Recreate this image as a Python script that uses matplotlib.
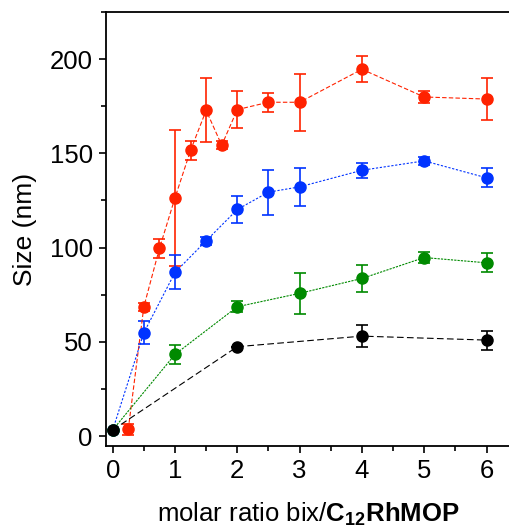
import matplotlib
matplotlib.use('Agg')
import matplotlib.pyplot as plt
from matplotlib.ticker import MultipleLocator

plt.rcParams['font.family'] = ['Liberation Sans', 'DejaVu Sans']
plt.rcParams['mathtext.fontset'] = 'custom'
plt.rcParams['mathtext.rm'] = 'Liberation Sans'
plt.rcParams['mathtext.bf'] = 'Liberation Sans:bold'

# red series
x_red = [0.25, 0.5, 0.75, 1, 1.25, 1.5, 1.75, 2, 2.5, 3, 4, 5, 6]
y_red = [3.5, 68.6, 99.5, 126.4, 151.6, 172.8, 154.3, 173.2, 177.1, 177.1, 194.6, 179.9, 178.8]
e_red = [3, 2, 5, 36, 5, 17, 2, 10, 5, 15, 7, 3, 11]

# blue series
x_blue = [0, 0.5, 1, 1.5, 2, 2.5, 3, 4, 5, 6]
y_blue = [3.2, 54.8, 86.8, 103.6, 120.2, 129.4, 132.2, 141.0, 146.0, 137.0]
e_blue = [0, 6, 9, 2, 7, 12, 10, 4, 2, 5]

# green series
x_green = [0, 1, 2, 3, 4, 5, 6]
y_green = [3.2, 43.3, 68.6, 75.7, 83.6, 94.7, 91.9]
e_green = [0, 5, 3, 11, 7, 3, 5]

# black series
x_black = [0, 2, 4, 6]
y_black = [3.2, 47.4, 53.0, 50.9]
e_black = [0, 0, 6, 5]

fig = plt.figure(figsize=(5.09, 5.28), dpi=100)
ax = fig.add_axes([0.2083, 0.1553, 0.7965, 0.822])

series = [
    (x_red, y_red, e_red, '#ff2200', (0, (4, 2))),
    (x_blue, y_blue, e_blue, '#0033ff', (0, (2, 1.5))),
    (x_green, y_green, e_green, '#008a00', (0, (2, 1))),
    (x_black, y_black, e_black, 'black', (0, (6, 3))),
]
for x, y, e, c, ls in series:
    ax.errorbar(x, y, yerr=e, color=c, marker='o', markersize=8, linestyle=ls,
                linewidth=0.8, elinewidth=1.2, capsize=4.5, capthick=1.2)

ax.set_xlim(-0.107, 6.4)
ax.set_ylim(-5.3, 225)
ax.xaxis.set_major_locator(MultipleLocator(1))
ax.xaxis.set_minor_locator(MultipleLocator(0.5))
ax.yaxis.set_major_locator(MultipleLocator(50))
ax.yaxis.set_minor_locator(MultipleLocator(25))
ax.tick_params(which='major', direction='out', length=5, width=1.2,
               labelsize=18.5, pad=4.5)
ax.tick_params(which='minor', direction='out', length=3.5, width=1.2)
ax.spines['right'].set_visible(False)
for s in ['left', 'bottom', 'top']:
    ax.spines[s].set_linewidth(1.3)

ax.set_xlabel(r'molar ratio bix/$\mathbf{C_{12}RhMOP}$', fontsize=18.5, labelpad=13)
ax.set_ylabel('Size (nm)', fontsize=19, labelpad=9)

fig.savefig('out.png', dpi=100)
